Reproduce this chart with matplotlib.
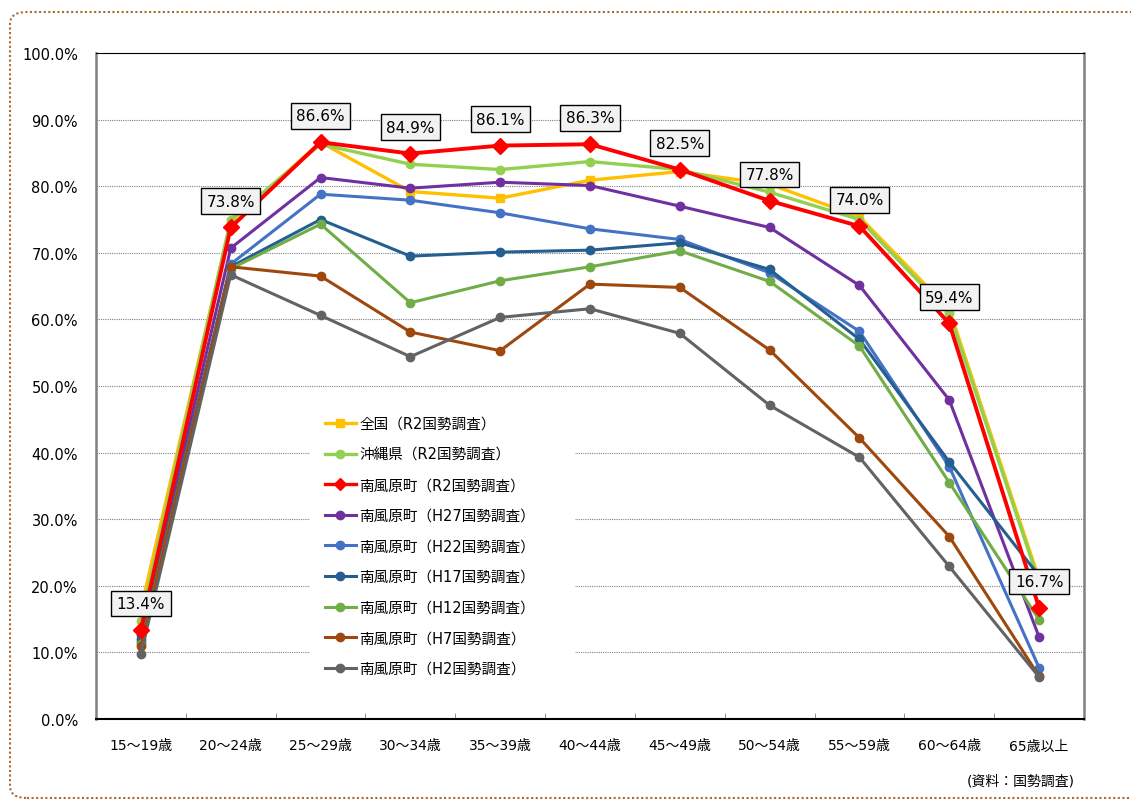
import matplotlib
matplotlib.use("Agg")
import matplotlib.pyplot as plt
from matplotlib.patches import FancyBboxPatch, Rectangle
from matplotlib.ticker import FixedLocator

plt.rcParams['font.family'] = ['DejaVu Sans', 'Noto Sans CJK JP']

categories = ["15～19歳", "20～24歳", "25～29歳", "30～34歳", "35～39歳", "40～44歳",
              "45～49歳", "50～54歳", "55～59歳", "60～64歳", "65歳以上"]

zenkoku_r2 = [16.5, 74.6, 86.6, 79.2, 78.2, 80.9, 82.2, 80.3, 75.4, 61.5, 21.0]
okinawa_r2 = [14.7, 75.0, 86.3, 83.3, 82.5, 83.7, 82.5, 79.1, 75.0, 60.9, 20.5]
haebaru_r2 = [13.4, 73.8, 86.6, 84.9, 86.1, 86.3, 82.5, 77.8, 74.0, 59.4, 16.7]
haebaru_h27 = [12.6, 70.7, 81.3, 79.7, 80.6, 80.1, 77.0, 73.8, 65.1, 47.9, 12.3]
haebaru_h22 = [11.6, 68.3, 78.8, 77.9, 76.0, 73.6, 72.0, 67.0, 58.2, 37.9, 7.7]
haebaru_h17 = [12.0, 67.9, 75.0, 69.5, 70.1, 70.4, 71.5, 67.5, 57.0, 38.6, 21.5]
haebaru_h12 = [11.2, 67.6, 74.3, 62.5, 65.8, 67.9, 70.3, 65.7, 56.0, 35.5, 14.9]
haebaru_h7 = [10.9, 67.9, 66.5, 58.1, 55.3, 65.3, 64.8, 55.4, 42.2, 27.4, 6.4]
haebaru_h2 = [9.8, 66.7, 60.6, 54.4, 60.3, 61.6, 57.9, 47.1, 39.3, 22.9, 6.3]

series_names = ["全国（R2国勢調査）", "沖縄県（R2国勢調査）", "南風原町（R2国勢調査）",
                "南風原町（H27国勢調査）", "南風原町（H22国勢調査）", "南風原町（H17国勢調査）",
                "南風原町（H12国勢調査）", "南風原町（H7国勢調査）", "南風原町（H2国勢調査）"]

yticks = [0, 10, 20, 30, 40, 50, 60, 70, 80, 90, 100]
ytick_labels = ["0.0%", "10.0%", "20.0%", "30.0%", "40.0%", "50.0%", "60.0%",
                "70.0%", "80.0%", "90.0%", "100.0%"]

source_text = "(資料：国勢調査)"

W, H = 1131, 803
fig = plt.figure(figsize=(W / 100, H / 100), dpi=100)
fig.patch.set_facecolor("white")

# dotted rounded border
border = FancyBboxPatch((10 / W, 4 / H), (1200 - 10) / W, (790 - 4) / H,
                        boxstyle="round,pad=0,rounding_size=0.015",
                        transform=fig.transFigure, fill=False,
                        edgecolor="#A86A32", linestyle=(0, (1, 1.2)), linewidth=1.5,
                        clip_on=False)
fig.patches.append(border)

ax = fig.add_axes([96 / W, (H - 720) / H, (1084 - 96) / W, (720 - 54) / H])
x = list(range(len(categories)))

styles = [
    (zenkoku_r2, "#FFC000", "s", 6.0, 2.4),
    (okinawa_r2, "#92D050", "o", 6.0, 2.4),
    (haebaru_r2, "#FF0000", "D", 8.5, 2.8),
    (haebaru_h27, "#7030A0", "o", 6.0, 2.2),
    (haebaru_h22, "#4472C4", "o", 6.0, 2.2),
    (haebaru_h17, "#255E91", "o", 6.0, 2.2),
    (haebaru_h12, "#70AD47", "o", 6.0, 2.2),
    (haebaru_h7, "#9E480E", "o", 6.0, 2.2),
    (haebaru_h2, "#636363", "o", 6.0, 2.2),
]
for i, ((vals, col, mk, ms, lw), name) in enumerate(zip(styles, series_names)):
    z = 10 if i == 2 else 3 + i * 0.1
    ax.plot(x, vals, color=col, marker=mk, markersize=ms, linewidth=lw,
            label=name, zorder=z, markeredgecolor=col)

# data labels for 南風原町 R2
for xi, v in zip(x, haebaru_r2):
    ax.annotate(f"{v:.1f}%", (xi, v), xytext=(0, 19), textcoords="offset points",
                ha="center", va="center", fontsize=11, zorder=20,
                bbox=dict(boxstyle="square,pad=0.35", fc="#F2F2F2", ec="black", lw=1))

ax.set_xlim(-0.5, len(categories) - 0.5)
ax.set_ylim(0, 100)
ax.set_yticks(yticks)
ax.set_yticklabels(ytick_labels, fontsize=10.5)
ax.set_xticks(x)
ax.set_xticklabels(categories, fontsize=10)
ax.xaxis.set_minor_locator(FixedLocator([i + 0.5 for i in range(len(categories) - 1)]))
ax.tick_params(axis="x", which="major", length=0, pad=14)
ax.tick_params(axis="x", which="minor", length=4, direction="in", color="#808080")
ax.tick_params(axis="y", length=0, pad=13)

ax.set_axisbelow(True)
ax.yaxis.grid(True, linestyle=(0, (1, 1)), color="#808080", linewidth=0.8)

for s in ["left", "right"]:
    ax.spines[s].set_color("#808080")
    ax.spines[s].set_linewidth(1.8)
ax.spines["top"].set_color("black")
ax.spines["top"].set_linewidth(0.8)
ax.spines["bottom"].set_color("black")
ax.spines["bottom"].set_linewidth(1.5)

# white legend area
ax.add_patch(Rectangle((310 / W, (H - 690) / H), 265 / W, 285 / H,
                       transform=fig.transFigure, facecolor="white",
                       edgecolor="none", zorder=1, clip_on=False))

leg = ax.legend(loc="upper left", bbox_to_anchor=(325 / W, (H - 417) / H),
                bbox_transform=fig.transFigure, frameon=False, fontsize=10.5,
                handlelength=2.1, handletextpad=0.25, labelspacing=1.07,
                borderpad=0.0, borderaxespad=0.0)
red_handle = leg.legend_handles[2]
red_handle.set_markersize(6.5)
red_handle.set_linewidth(2.4)

fig.text(1075 / W, (H - 782) / H, source_text, ha="right", va="center", fontsize=10)

fig.savefig("out.png", dpi=100, facecolor="white")
